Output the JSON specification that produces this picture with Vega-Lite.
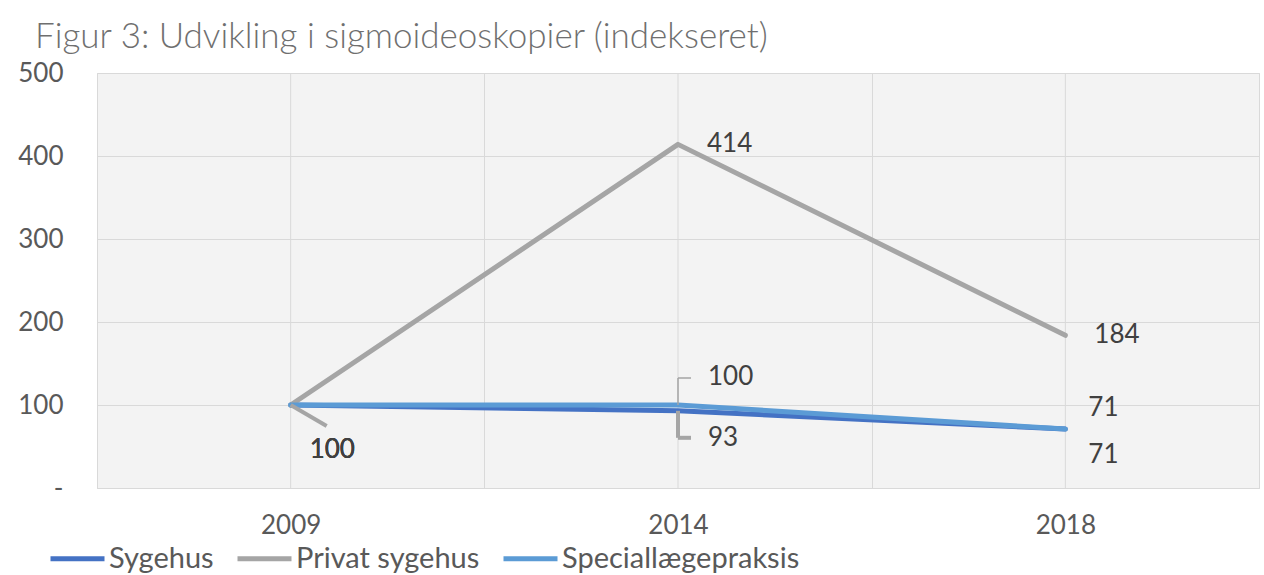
{
  "$schema": "https://vega.github.io/schema/vega-lite/v6.json",
  "autosize": {"type": "none"},
  "padding": {"left": 97, "top": 73, "right": 5, "bottom": 87},
  "width": 1162,
  "height": 415,
  "background": "white",
  "config": {
    "font": "Lato",
    "view": {"stroke": "#d9d9d9", "fill": "#f3f3f3"}
  },
  "title": {
    "text": "Figur 3: Udvikling i sigmoideoskopier (indekseret)",
    "anchor": "start",
    "frame": "group",
    "dx": -62,
    "font": "Lato",
    "fontSize": 35,
    "fontWeight": 300,
    "color": "#6f6f6f",
    "baseline": "alphabetic",
    "offset": -23
  },
  "data": {
    "values": [
      {"year": "2009", "series": "Sygehus", "value": 100},
      {"year": "2014", "series": "Sygehus", "value": 93},
      {"year": "2018", "series": "Sygehus", "value": 71},
      {"year": "2009", "series": "Privat sygehus", "value": 100},
      {"year": "2014", "series": "Privat sygehus", "value": 414},
      {"year": "2018", "series": "Privat sygehus", "value": 184},
      {"year": "2009", "series": "Speciallægepraksis", "value": 100},
      {"year": "2014", "series": "Speciallægepraksis", "value": 100},
      {"year": "2018", "series": "Speciallægepraksis", "value": 71}
    ]
  },
  "encoding": {
    "x": {
      "field": "year",
      "type": "ordinal",
      "scale": {"type": "band", "paddingInner": 0, "paddingOuter": 0},
      "axis": {
        "title": null,
        "labelAngle": 0,
        "labelFont": "Lato",
        "labelFontSize": 26,
        "labelColor": "#595959",
        "labelPadding": 24,
        "ticks": false,
        "domainColor": "#d9d9d9",
        "grid": true,
        "gridColor": "#d9d9d9",
        "tickBand": "extent"
      }
    },
    "y": {
      "field": "value",
      "type": "quantitative",
      "scale": {"domain": [0, 500], "nice": false},
      "axis": {
        "title": null,
        "values": [0, 100, 200, 300, 400, 500],
        "labelExpr": "datum.value==0?'-\u00a0\u00a0\u00a0':datum.label",
        "domain": false,
        "ticks": false,
        "labelPadding": 34,
        "labelFont": "Lato",
        "labelFontSize": 26,
        "labelColor": "#595959",
        "gridColor": "#d9d9d9"
      }
    }
  },
  "layer": [
    {
      "transform": [{"filter": "datum.series=='Sygehus'"}],
      "mark": {"type": "rule", "color": "#d9d9d9", "strokeWidth": 1},
      "encoding": {"y": {"value": 0}, "y2": {"value": "height"}}
    },
    {
      "mark": {"type": "line", "strokeWidth": 5, "strokeCap": "round", "strokeJoin": "round"},
      "encoding": {
        "color": {
          "field": "series",
          "type": "nominal",
          "scale": {
            "domain": ["Sygehus", "Privat sygehus", "Speciallægepraksis"],
            "range": ["#4472c4", "#a5a5a5", "#5b9bd5"]
          },
          "legend": {
            "orient": "none",
            "legendX": -49,
            "legendY": 456,
            "direction": "horizontal",
            "title": null,
            "labelFont": "Lato",
            "labelFontSize": 29,
            "labelColor": "#595959",
            "symbolType": "stroke",
            "symbolSize": 2916,
            "symbolStrokeWidth": 5,
            "labelOffset": 2,
            "columnPadding": 13,
            "labelLimit": 400,
            "padding": 0
          }
        }
      }
    },
    {
      "transform": [{"filter": "datum.series=='Privat sygehus' && datum.year=='2009'"}],
      "mark": {"type": "rule", "color": "#a5a5a5", "strokeWidth": 4, "x2Offset": 36, "y2Offset": 21},
      "encoding": {"x2": {"field": "year"}, "y2": {"field": "value"}}
    },
    {
      "transform": [{"filter": "datum.series=='Speciallægepraksis' && datum.year=='2014'"}],
      "mark": {"type": "rule", "color": "#a5a5a5", "strokeWidth": 1.5, "y2Offset": -27},
      "encoding": {"y2": {"field": "value"}}
    },
    {
      "transform": [{"filter": "datum.series=='Speciallægepraksis' && datum.year=='2014'"}],
      "mark": {"type": "rule", "color": "#a5a5a5", "strokeWidth": 1.5, "yOffset": -27, "x2Offset": 13},
      "encoding": {"x2": {"field": "year"}}
    },
    {
      "transform": [{"filter": "datum.series=='Sygehus' && datum.year=='2014'"}],
      "mark": {"type": "rule", "color": "#a5a5a5", "strokeWidth": 4, "y2Offset": 27},
      "encoding": {"y2": {"field": "value"}}
    },
    {
      "transform": [{"filter": "datum.series=='Sygehus' && datum.year=='2014'"}],
      "mark": {"type": "rule", "color": "#a5a5a5", "strokeWidth": 4, "yOffset": 27, "x2Offset": 13},
      "encoding": {"x2": {"field": "year"}}
    },
    {
      "transform": [{"filter": "datum.series=='Privat sygehus' && datum.year!='2009'"}],
      "mark": {"type": "text", "align": "left", "baseline": "middle", "dx": 29, "font": "Lato", "fontSize": 26, "fill": "#404040"},
      "encoding": {"text": {"field": "value"}}
    },
    {
      "transform": [{"filter": "datum.year=='2009'"}],
      "mark": {"type": "text", "align": "left", "baseline": "middle", "dx": 19, "dy": 45, "font": "Lato", "fontSize": 26, "fill": "#404040"},
      "encoding": {"text": {"field": "value"}}
    },
    {
      "transform": [{"filter": "datum.series=='Speciallægepraksis' && datum.year=='2014'"}],
      "mark": {"type": "text", "align": "left", "baseline": "middle", "dx": 30, "dy": -28, "font": "Lato", "fontSize": 26, "fill": "#404040"},
      "encoding": {"text": {"field": "value"}}
    },
    {
      "transform": [{"filter": "datum.series=='Sygehus' && datum.year=='2014'"}],
      "mark": {"type": "text", "align": "left", "baseline": "middle", "dx": 30, "dy": 27, "font": "Lato", "fontSize": 26, "fill": "#404040"},
      "encoding": {"text": {"field": "value"}}
    },
    {
      "transform": [{"filter": "datum.series=='Speciallægepraksis' && datum.year=='2018'"}],
      "mark": {"type": "text", "align": "left", "baseline": "middle", "dx": 23, "dy": -21, "font": "Lato", "fontSize": 26, "fill": "#404040"},
      "encoding": {"text": {"field": "value"}}
    },
    {
      "transform": [{"filter": "datum.series=='Sygehus' && datum.year=='2018'"}],
      "mark": {"type": "text", "align": "left", "baseline": "middle", "dx": 23, "dy": 26, "font": "Lato", "fontSize": 26, "fill": "#404040"},
      "encoding": {"text": {"field": "value"}}
    }
  ]
}
